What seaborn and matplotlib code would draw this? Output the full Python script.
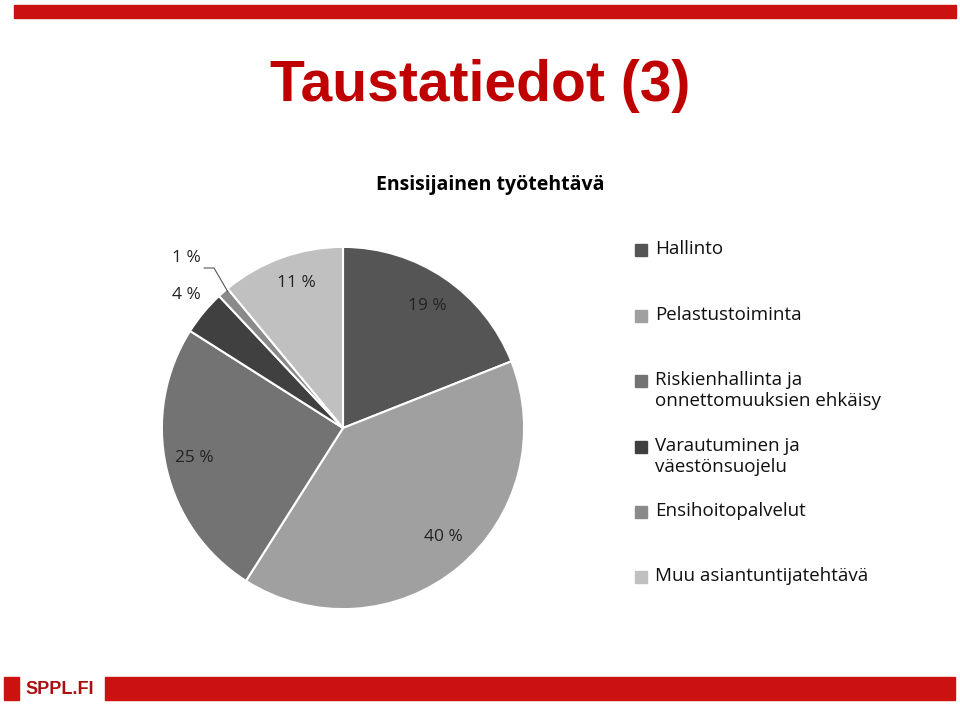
import matplotlib.pyplot as plt
import matplotlib.patches as mpatches
import seaborn as sns

sns.set_theme(style="white")

categories = ["Hallinto", "Pelastustoiminta", "Riskienhallinta ja\nonnettomuuksien ehkäisy",
              "Varautuminen ja\nväestönsuojelu", "Ensihoitopalvelut", "Muu asiantuntijatehtävä"]
values = [19, 40, 25, 4, 1, 11]
pct_labels = ["19 %", "40 %", "25 %", "4 %", "1 %", "11 %"]
colors = ["#555555", "#a0a0a0", "#737373", "#404040", "#8a8a8a", "#c0c0c0"]

W, H = 960, 706
fig = plt.figure(figsize=(9.6, 7.06), dpi=100)
fig.patch.set_facecolor("white")

def fx(x): return x / W
def fy(y): return 1 - y / H

# top / bottom bars
fig.patches.append(mpatches.Rectangle((fx(14), fy(18)), fx(942), 13 / H, color="#cc1111", transform=fig.transFigure))
fig.patches.append(mpatches.Rectangle((fx(105), fy(700)), fx(850), 23 / H, color="#cc1111", transform=fig.transFigure))
fig.patches.append(mpatches.Rectangle((fx(4), fy(700)), fx(15), 23 / H, color="#cc1111", transform=fig.transFigure))
fig.text(fx(25), fy(689), "SPPL.FI", color="#aa1010", fontsize=13, fontweight="bold",
         family="Liberation Sans", va="center", ha="left")

fig.text(fx(480), fy(86), "Taustatiedot (3)", color="#c00000", fontsize=41, fontweight="bold",
         ha="center", va="center", family="Liberation Sans")
fig.text(fx(490), fy(185), "Ensisijainen työtehtävä", color="black", fontsize=14, fontweight="bold",
         ha="center", va="center", family="Open Sans")

ax = fig.add_axes([fx(161), 96 / H, 364 / W, 364 / H])
ax.pie(values, colors=colors, startangle=90, counterclock=False,
       wedgeprops=dict(edgecolor="white", linewidth=1.5))
ax.set_xlim(-1.005, 1.005)
ax.set_ylim(-1.005, 1.005)
ax.set_aspect("equal")

label_pos = [(427, 306), (443, 537), (194, 458), (186, 295), (186, 258), (296, 283)]
for (x, y), t in zip(label_pos, pct_labels):
    fig.text(fx(x), fy(y), t, fontsize=12.5, ha="center", va="center", family="Open Sans", color="#222222")
fig.add_artist(plt.Line2D([fx(204), fx(214), fx(228)], [fy(268), fy(268), fy(292)],
                          color="#555555", lw=0.8, transform=fig.transFigure))

leg_y = [250, 316, 381, 447, 512, 577]
for c, t, y in zip(colors, categories, leg_y):
    fig.patches.append(mpatches.Rectangle((fx(635), fy(y + 6)), 12 / W, 12 / H, color=c, transform=fig.transFigure))
    fig.text(fx(655), fy(y - 10), t, fontsize=13.5, ha="left", va="top", family="Open Sans",
             color="#111111", linespacing=1.2)

fig.savefig("out.png", dpi=100)
